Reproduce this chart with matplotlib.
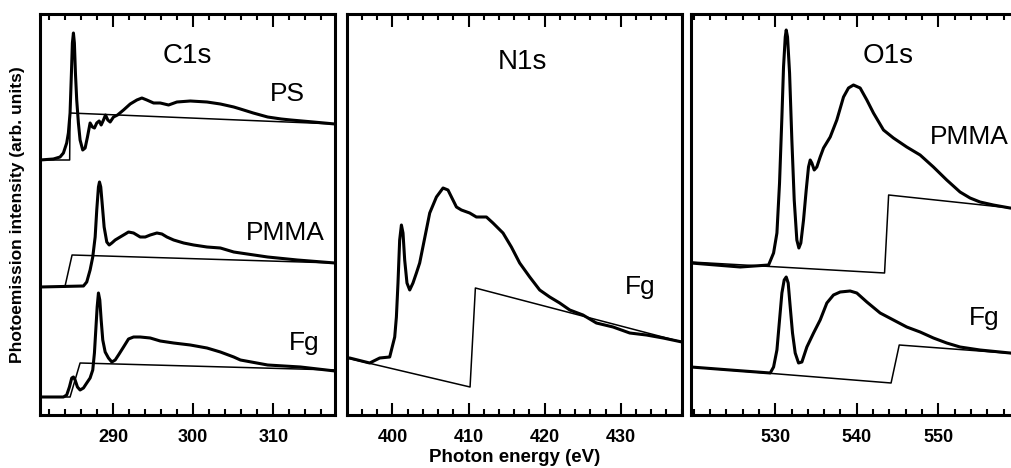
import matplotlib
matplotlib.use('Agg')
import matplotlib.pyplot as plt
from matplotlib.ticker import MultipleLocator, FixedLocator

plt.rcParams['font.family'] = ['Liberation Sans', 'DejaVu Sans']

# C1s panel: photon energy (eV) and intensity (arb. units, spectra stacked)
c1s_ps_e = [280.9, 282.57, 283.4, 283.82, 284.23, 284.44, 284.65, 284.82, 284.94, 285.07, 285.19, 285.32,
            285.48, 285.69, 285.9, 286.23, 286.53, 286.82, 287.15, 287.44, 287.69, 287.98, 288.28, 288.53,
            288.82, 289.07, 289.36, 289.65, 290.07, 290.57, 291.32, 292.15, 292.98, 293.61, 294.23, 295.07,
            295.9, 296.94, 297.98, 299.65, 301.73, 303.4, 305.07, 305.9, 307.5, 309.3, 311.0, 312.2, 315.0,
            317.7]
c1s_ps_i = [255, 256, 258, 262, 272, 282, 302, 342, 372, 382, 372, 342, 315, 292, 275, 265, 267, 278, 292,
            288, 287, 292, 294, 290, 295, 300, 295, 293, 298, 300, 305, 311, 315, 317, 315, 312, 312, 310,
            313, 314, 313, 311, 308, 306, 302, 298, 296, 295, 293, 291]
c1s_ps_step_e = [280.9, 284.6, 284.65, 317.7]
c1s_ps_step_i = [255, 255, 302, 291]

c1s_pmma_e = [280.9, 286.32, 286.73, 287.15, 287.48, 287.78, 287.98, 288.19, 288.32, 288.48, 288.65, 288.9,
              289.23, 289.53, 289.86, 290.28, 290.9, 291.53, 291.94, 292.57, 293.4, 294.03, 294.65, 295.48,
              296.11, 296.73, 297.57, 298.82, 300.07, 301.73, 303.4, 305.07, 305.9, 309.3, 313.0, 317.7]
c1s_pmma_i = [128, 129, 133, 145, 158, 178, 205, 228, 233, 228, 212, 188, 173, 170, 172, 175, 178, 181, 183,
              182, 178, 178, 180, 182, 181, 178, 175, 172, 170, 168, 167, 163, 162, 158, 155, 152]
c1s_pmma_step_e = [280.9, 284.0, 284.9, 317.7]
c1s_pmma_step_i = [128, 128, 160, 152]

c1s_fg_e = [280.9, 283.82, 284.23, 284.57, 284.86, 285.07, 285.28, 285.57, 285.9, 286.32, 286.73, 287.15,
            287.48, 287.69, 287.86, 288.03, 288.19, 288.36, 288.53, 288.73, 289.03, 289.44, 289.86, 290.28,
            290.69, 291.32, 291.94, 292.57, 293.4, 294.65, 295.9, 297.57, 299.65, 301.73, 303.4, 305.07,
            305.9, 309.3, 313.4, 317.7]
c1s_fg_i = [18, 18, 20, 28, 37, 38, 35, 28, 25, 27, 32, 37, 45, 62, 85, 108, 122, 115, 95, 75, 63, 57, 53,
            55, 60, 68, 76, 78, 78, 77, 74, 72, 70, 67, 63, 58, 55, 50, 48, 44]
c1s_fg_step_e = [280.9, 284.65, 285.9, 317.7]
c1s_fg_step_i = [18, 18, 52, 45]

# N1s panel
n1s_fg_e = [394.03, 394.38, 397.01, 398.33, 399.64, 400.3, 400.52, 400.73, 400.95, 401.18, 401.39, 401.61,
            401.91, 402.27, 402.7, 403.15, 403.58, 404.24, 404.9, 405.78, 406.65, 407.3, 408.41, 409.06,
            410.15, 411.03, 412.35, 413.21, 414.53, 415.63, 416.72, 418.04, 419.35, 420.67, 421.98, 423.3,
            425.04, 426.8, 428.99, 431.18, 433.37, 435.56, 438.05]
n1s_fg_i = [57, 57, 52, 57, 58, 78, 98, 132, 175, 190, 182, 155, 132, 125, 132, 142, 152, 177, 202, 218, 227,
            225, 208, 205, 202, 198, 198, 192, 182, 168, 152, 138, 125, 118, 112, 105, 100, 92, 88, 82, 80,
            77, 73]
n1s_fg_step_e = [394.03, 410.2, 410.9, 438.05]
n1s_fg_step_i = [57, 28, 127, 73]

# O1s panel
o1s_pmma_e = [519.68, 525.72, 529.19, 529.8, 530.21, 530.53, 530.82, 531.02, 531.23, 531.35, 531.51, 531.76,
              532.04, 532.33, 532.65, 532.9, 533.14, 533.47, 533.8, 534.08, 534.29, 534.49, 534.78, 535.1,
              535.51, 535.92, 536.74, 537.55, 538.37, 538.98, 539.59, 540.41, 541.23, 542.04, 543.27,
              544.49, 546.12, 547.76, 549.39, 551.02, 552.65, 553.88, 555.1, 556.74, 558.78, 560.0]
o1s_pmma_i = [152, 148, 150, 162, 182, 232, 298, 348, 378, 385, 378, 342, 275, 215, 175, 167, 172, 195, 225,
              248, 255, 252, 245, 248, 258, 267, 278, 295, 318, 327, 330, 327, 315, 302, 285, 277, 268, 260,
              248, 235, 223, 217, 213, 210, 207, 206]
o1s_pmma_step_e = [519.68, 543.4, 543.9, 560.0]
o1s_pmma_step_i = [153, 142, 220, 206]

o1s_fg_e = [519.68, 524.49, 529.39, 529.8, 530.21, 530.53, 530.82, 531.1, 531.35, 531.59, 531.84, 532.12,
            532.45, 532.86, 533.27, 533.88, 534.7, 535.51, 536.33, 537.14, 537.96, 539.18, 540.0, 541.23,
            542.86, 544.49, 546.12, 547.76, 549.39, 551.02, 552.65, 555.1, 558.78, 560.0]
o1s_fg_i = [48, 45, 42, 48, 65, 95, 122, 135, 138, 132, 108, 82, 62, 52, 53, 68, 82, 95, 112, 120, 123, 124,
            122, 113, 102, 95, 88, 83, 77, 72, 68, 65, 62, 61]
o1s_fg_step_e = [519.68, 544.2, 545.2, 560.0]
o1s_fg_step_i = [48, 32, 70, 61]

W, H = 1011, 468
fig = plt.figure(figsize=(W / 100, H / 100), dpi=100)

def add_ax(x0, x1, y0=14, y1=415):
    return fig.add_axes([x0 / W, 1 - y1 / H, (x1 - x0) / W, (y1 - y0) / H])

ax1 = add_ax(40, 335)
ax2 = add_ax(347, 682)
ax3 = add_ax(691, 1020)

thick = 2.2
thin = 1.1

ax1.plot(c1s_ps_e, c1s_ps_i, color='black', lw=thick)
ax1.plot(c1s_ps_step_e, c1s_ps_step_i, color='black', lw=thin)
ax1.plot(c1s_pmma_e, c1s_pmma_i, color='black', lw=thick)
ax1.plot(c1s_pmma_step_e, c1s_pmma_step_i, color='black', lw=thin)
ax1.plot(c1s_fg_e, c1s_fg_i, color='black', lw=thick)
ax1.plot(c1s_fg_step_e, c1s_fg_step_i, color='black', lw=thin)

ax2.plot(n1s_fg_e, n1s_fg_i, color='black', lw=thick)
ax2.plot(n1s_fg_step_e, n1s_fg_step_i, color='black', lw=thin)

ax3.plot(o1s_pmma_e, o1s_pmma_i, color='black', lw=thick)
ax3.plot(o1s_pmma_step_e, o1s_pmma_step_i, color='black', lw=thin)
ax3.plot(o1s_fg_e, o1s_fg_i, color='black', lw=thick)
ax3.plot(o1s_fg_step_e, o1s_fg_step_i, color='black', lw=thin)

ax1.set_xlim(280.9, 317.7)
ax2.set_xlim(394.03, 438.05)
ax3.set_xlim(519.68, 560.0)

major = {ax1: [290, 300, 310], ax2: [400, 410, 420, 430], ax3: [530, 540, 550]}
for ax in (ax1, ax2, ax3):
    ax.set_ylim(0, 401)
    ax.set_yticks([])
    ax.xaxis.set_major_locator(FixedLocator(major[ax]))
    ax.xaxis.set_minor_locator(MultipleLocator(2))
    ax.tick_params(axis='x', which='both', direction='in', top=True, bottom=True, width=1.5, pad=10)
    ax.tick_params(axis='x', which='major', length=9, labelsize=13)
    ax.tick_params(axis='x', which='minor', length=4.5)
    for lab in ax.get_xticklabels():
        lab.set_fontweight('bold')
    for sp in ax.spines.values():
        sp.set_linewidth(2.2)

lab_kw = dict(fontsize=19, ha='center', va='center')
ax1.text(0.50, 0.895, 'C1s', transform=ax1.transAxes, fontsize=20, ha='center', va='center')
ax1.text(0.84, 0.80, 'PS', transform=ax1.transAxes, **lab_kw)
ax1.text(0.83, 0.455, 'PMMA', transform=ax1.transAxes, **lab_kw)
ax1.text(0.895, 0.18, 'Fg', transform=ax1.transAxes, **lab_kw)
ax2.text(0.525, 0.88, 'N1s', transform=ax2.transAxes, fontsize=20, ha='center', va='center')
ax2.text(0.875, 0.32, 'Fg', transform=ax2.transAxes, **lab_kw)
ax3.text(0.60, 0.895, 'O1s', transform=ax3.transAxes, fontsize=20, ha='center', va='center')
ax3.text(0.725, 0.693, 'PMMA', transform=ax3.transAxes, fontsize=19, ha='left', va='center')
ax3.text(0.89, 0.242, 'Fg', transform=ax3.transAxes, **lab_kw)

fig.text(18 / W, 1 - 215 / H, 'Photoemission intensity (arb. units)', rotation=90,
         ha='center', va='center', fontsize=12.5, fontweight='bold')
fig.text(515 / W, 1 - 457 / H, 'Photon energy (eV)', ha='center', va='center',
         fontsize=13.5, fontweight='bold')

fig.savefig('out.png', dpi=100)
